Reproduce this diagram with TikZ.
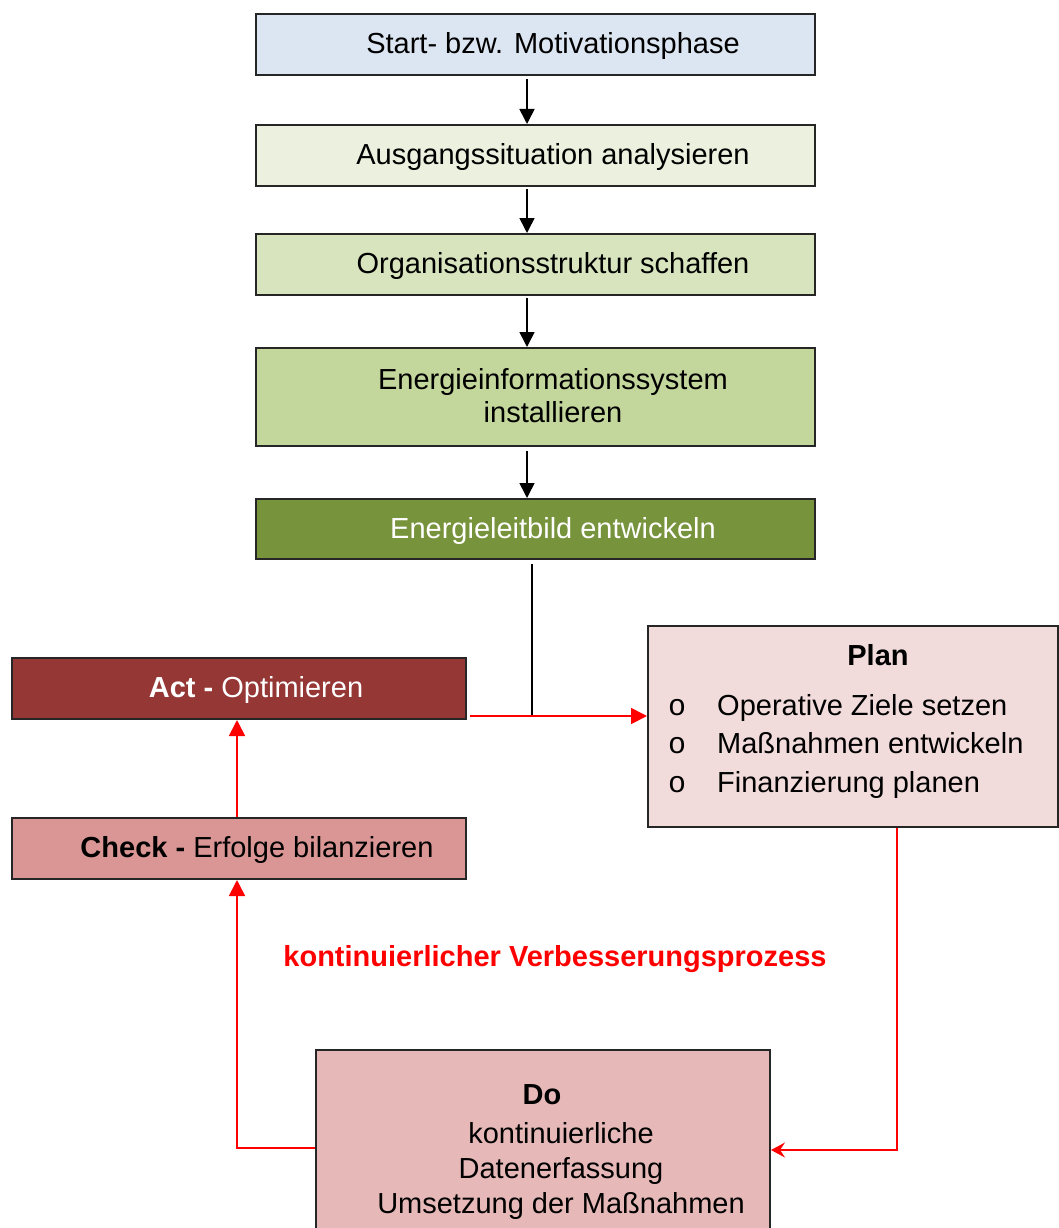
\documentclass[tikz,border=0pt]{standalone}
\usepackage{fontspec}
\setmainfont{Liberation Sans}
\newfontfamily\monofnt{Liberation Mono}
\usetikzlibrary{arrows.meta}
\definecolor{cStart}{HTML}{DCE6F2}
\definecolor{cAus}{HTML}{EBF1DE}
\definecolor{cOrg}{HTML}{D7E4BD}
\definecolor{cEner}{HTML}{C3D69B}
\definecolor{cLeit}{HTML}{77933C}
\definecolor{cAct}{HTML}{953735}
\definecolor{cCheck}{HTML}{D99694}
\definecolor{cPlan}{HTML}{F2DCDB}
\definecolor{cDo}{HTML}{E6B9B8}
\definecolor{cRed}{HTML}{FF0000}
\begin{document}
\begin{tikzpicture}[x=1pt,y=-1pt,
  box/.style={draw=black!85, line width=2pt, rectangle, inner sep=0pt},
  txt/.style={inner sep=0pt, font=\fontsize{29}{35}\selectfont, align=center},
  bul/.style={inner sep=0pt, anchor=base, font=\monofnt\fontsize{30}{30}\selectfont},
  conn/.style={line width=1.6pt, -{Triangle[length=15pt,width=15pt]}},
  rconn/.style={draw=cRed, line width=1.8pt, -{Triangle[length=16pt,width=16pt]}},
  rconnS/.style={draw=cRed, line width=1.8pt, -{Stealth[length=14pt,width=15pt,inset=5pt]}}]
\useasboundingbox (0,0) rectangle (1059,1228);
\clip (0,0) rectangle (1059,1228);
\fill[white] (0,0) rectangle (1059,1228);

% top chain
\node[box, fill=cStart, minimum width=559pt, minimum height=61pt] (start) at (535.5,44.5) {};
\node[txt] (startT) at ([xshift=17.5pt,yshift=-1.5pt]start.center) {Start- bzw. Motivationsphase};
\node[box, fill=cAus, minimum width=559pt, minimum height=61pt] (aus) at (535.5,155.5) {};
\node[txt] (ausT) at ([xshift=17.5pt,yshift=-1.5pt]aus.center) {Ausgangssituation analysieren};
\node[box, fill=cOrg, minimum width=559pt, minimum height=61pt] (org) at (535.5,264.5) {};
\node[txt] (orgT) at ([xshift=17.5pt,yshift=-1.5pt]org.center) {Organisationsstruktur schaffen};
\node[box, fill=cEner, minimum width=559pt, minimum height=98pt] (ener) at (535.5,397) {};
\node[txt, font=\fontsize{29}{33}\selectfont] (enerT) at ([xshift=17.5pt,yshift=1pt]ener.center) {Energieinformationssystem\\installieren};
\node[box, fill=cLeit, minimum width=559pt, minimum height=60pt] (leit) at (535.5,529) {};
\node[txt, text=white] (leitT) at ([xshift=17.5pt,yshift=-1.5pt]leit.center) {Energieleitbild entwickeln};

% PDCA boxes
\node[box, fill=cAct, minimum width=454pt, minimum height=61pt] (act) at (239,688.5) {};
\node[txt, text=white] (actT) at ([xshift=17pt,yshift=-1.5pt]act.center) {\textbf{Act -} Optimieren};
\node[box, fill=cCheck, minimum width=454pt, minimum height=61pt] (check) at (239,848.5) {};
\node[txt] (checkT) at ([xshift=18pt,yshift=-1.5pt]check.center) {\textbf{Check -} Erfolge bilanzieren};
\node[box, fill=cPlan, minimum width=410pt, minimum height=201pt] (plan) at (853,726.5) {};
\node[txt, anchor=base] (planH) at (878,665) {\textbf{Plan}};
\node[bul] (pb1) at (677,715) {o};
\node[bul] (pb2) at (677,753) {o};
\node[bul] (pb3) at (677,792) {o};
\node[txt, anchor=base west] (pt1) at (717,715) {Operative Ziele setzen};
\node[txt, anchor=base west] (pt2) at (717,753) {Maßnahmen entwickeln};
\node[txt, anchor=base west] (pt3) at (717,792) {Finanzierung planen};
\node[box, fill=cDo, minimum width=454pt, minimum height=220pt] (do) at (543,1160) {};
\node[txt, anchor=base] (doH) at (542,1104) {\textbf{Do}};
\node[txt, anchor=base] (do1) at (561,1143) {kontinuierliche};
\node[txt, anchor=base] (do2) at (561,1178) {Datenerfassung};
\node[txt, anchor=base] (do3) at (561,1213) {Umsetzung der Maßnahmen};

\node[txt, anchor=base, text=cRed] (kvp) at (555,966) {\textbf{kontinuierlicher Verbesserungsprozess}};

% connectors
\coordinate (col) at (527,0);
\coordinate (jc) at (532,716);
\coordinate (dl) at (237,1148);
\coordinate (pr) at (897,1150);
\draw[conn, shorten <=3pt] (start.south -| col) -- (aus.north -| col);
\draw[conn, shorten <=2pt] (aus.south -| col) -- (org.north -| col);
\draw[conn, shorten <=2pt] (org.south -| col) -- (ener.north -| col);
\draw[conn, shorten <=4pt] (ener.south -| col) -- (leit.north -| col);
\draw[line width=1.6pt, shorten <=4pt] (leit.south -| jc) -- (jc);
\draw[rconn] ([xshift=3pt]act.east |- jc) -- (plan.west |- jc);
\draw[rconn] (check.north -| dl) -- (act.south -| dl);
\draw[rconn] (do.west |- dl) -- (dl) -- (check.south -| dl);
\draw[rconnS] (plan.south -| pr) -- (pr) -- (do.east |- pr);
\end{tikzpicture}
\end{document}
